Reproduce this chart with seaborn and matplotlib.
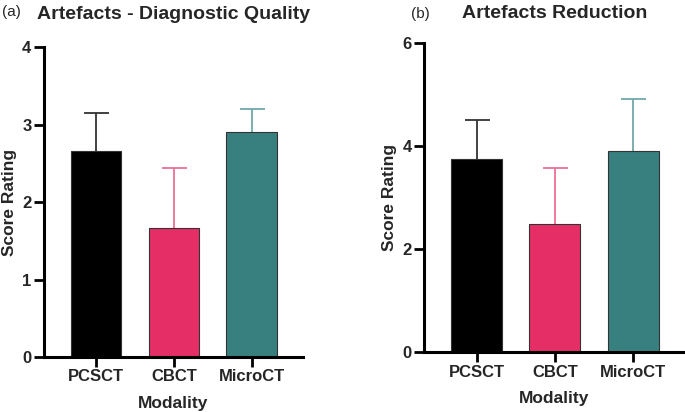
import numpy as np
import pandas as pd
import matplotlib.pyplot as plt
import seaborn as sb

# data
modality = ["PCSCT", "CBCT", "MicroCT"]
quality_mean = [2.66, 1.66, 2.91]
quality_sd = [0.49, 0.78, 0.29]
reduction_mean = [3.74, 2.49, 3.91]
reduction_sd = [0.76, 1.09, 1.00]

bar_colors = ["#000000", "#E62E66", "#388080"]
err_colors = ["#333333", "#EE7096", "#6FA9A9"]

sb.set_theme(style="ticks")
plt.rcParams["font.family"] = ["Liberation Sans", "DejaVu Sans"]

fig = plt.figure(figsize=(6.85, 4.12), dpi=100)
ax1 = fig.add_axes([0.0642, 0.1335, 0.378, 0.752])
ax2 = fig.add_axes([0.619, 0.1456, 0.381, 0.750])


def draw_panel(ax, means, sds, title, ymax, yticks, tpad):
    df = pd.DataFrame({"Modality": modality, "Score": means})
    sb.barplot(data=df, x="Modality", y="Score", hue="Modality", palette=bar_colors,
               width=0.65, ax=ax, legend=False, saturation=1,
               edgecolor=err_colors, linewidth=0.8, zorder=2)
    # upper-only error bars, cap on top only
    for i, (m, s) in enumerate(zip(means, sds)):
        eb = ax.errorbar(i, m, yerr=[[0], [s]], color=err_colors[i], capsize=9,
                         elinewidth=1.3, capthick=1.3, zorder=1)
        eb[1][0].set_visible(False)
    ax.set_ylim(0, ymax)
    ax.set_xlim(-0.67, 2.66)
    ax.set_yticks(yticks)
    ax.set_xlabel("Modality", fontsize=12.5, fontweight="bold", labelpad=8)
    ax.set_ylabel("Score Rating", fontsize=12.5, fontweight="bold", labelpad=4)
    for sp in ["top", "right"]:
        ax.spines[sp].set_visible(False)
    for sp in ["left", "bottom"]:
        ax.spines[sp].set_linewidth(2.2)
        ax.spines[sp].set_color("black")
    ax.tick_params(axis="both", width=2, length=7, color="black", labelsize=12, pad=2)
    for lab in ax.get_xticklabels() + ax.get_yticklabels():
        lab.set_fontweight("bold")
    ax.set_title(title, fontsize=14, fontweight="bold", pad=tpad)
    return ax


draw_panel(ax1, quality_mean, quality_sd, "Artefacts - Diagnostic Quality", 4, [0, 1, 2, 3, 4], 20)
draw_panel(ax2, reduction_mean, reduction_sd, "Artefacts Reduction", 6, [0, 2, 4, 6], 18)

fig.text(0.003, 0.972, "(a)", fontsize=11, va="center", ha="left")
fig.text(0.600, 0.965, "(b)", fontsize=11, va="center", ha="left")

fig.savefig("out.png", dpi=100)
